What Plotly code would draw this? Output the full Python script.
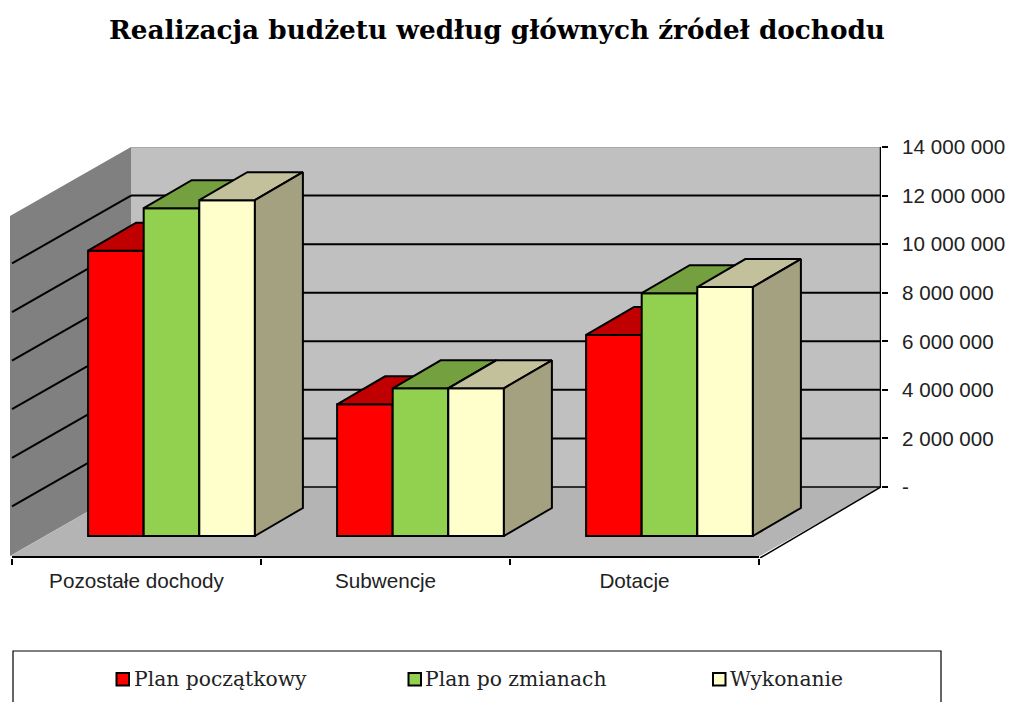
import plotly.graph_objects as go

title = "Realizacja budżetu według głównych źródeł dochodu"
categories = ["Pozostałe dochody", "Subwencje", "Dotacje"]
plan_poczatkowy = [11750000, 5420000, 8280000]
plan_po_zmianach = [13500000, 6080000, 10000000]
wykonanie = [13830000, 6080000, 10250000]
series_names = ["Plan początkowy", "Plan po zmianach", "Wykonanie"]
tick_values = [0, 2000000, 4000000, 6000000, 8000000, 10000000, 12000000, 14000000]
tick_labels = ["-", "2 000 000", "4 000 000", "6 000 000", "8 000 000", "10 000 000", "12 000 000", "14 000 000"]

# Oblique projection parameters (axis units)
UX = 249.0              # pixels per category
UY = 14000000 / 340.0   # value per pixel
WALL_DX, WALL_DY = 121 / UX, 69 * UY     # depth of the whole floor
BAR_DX, BAR_DY = 48 / UX, 28 * UY        # depth of a bar
FRONT_X, FRONT_Y = 35 / UX, -49 * UY     # front plane of the bars relative to the back wall
BAR_W = 55.6 / UX

front = ["#FF0000", "#92D050", "#FFFFCC"]
top = ["#C00000", "#74A040", "#C2C19B"]
side = ["#990000", "#6E9C3C", "#A3A180"]
all_values = [plan_poczatkowy, plan_po_zmianach, wykonanie]

X0 = -2 / UX
X_MAX = (881 - 12) / UX
Y_MIN = -71 * UY
Y_MAX = 14000000

# paper-coordinate helpers for the legend box
PLOT_L, PLOT_W, PLOT_B, PLOT_H = 10, 871, 558, 411


def px(v):
    return (v - PLOT_L) / PLOT_W


def py(v):
    return (PLOT_B - v) / PLOT_H


fig = go.Figure()

for s, (name, vals) in enumerate(zip(series_names, all_values)):
    suffix = "" if s == 0 else str(s + 1)
    xa, ya = "x" + suffix, "y" + suffix
    xs = [i + 0.5 + FRONT_X + (s - 1) * BAR_W for i in range(len(vals))]
    fig.add_trace(go.Bar(
        x=xs, y=vals, base=FRONT_Y, width=BAR_W, name=name, xaxis=xa, yaxis=ya,
        marker=dict(color=front[s], line=dict(color="black", width=2)),
        hoverinfo="name+y", showlegend=False,
    ))
    for xc, v in zip(xs, vals):
        xl, xr = xc - BAR_W / 2, xc + BAR_W / 2
        yt = FRONT_Y + v
        fig.add_trace(go.Scatter(
            x=[xl, xr, xr + BAR_DX, xl + BAR_DX, xl],
            y=[yt, yt, yt + BAR_DY, yt + BAR_DY, yt],
            mode="lines", fill="toself", fillcolor=top[s],
            line=dict(color="black", width=2), showlegend=False, hoverinfo="skip",
            xaxis=xa, yaxis=ya,
        ))
        fig.add_trace(go.Scatter(
            x=[xr, xr + BAR_DX, xr + BAR_DX, xr, xr],
            y=[FRONT_Y, FRONT_Y + BAR_DY, yt + BAR_DY, yt, FRONT_Y],
            mode="lines", fill="toself", fillcolor=side[s] if s < 2 else "#A3A180",
            line=dict(color="black", width=2), showlegend=False, hoverinfo="skip",
            xaxis=xa, yaxis=ya,
        ))

shapes = []
# back wall
shapes.append(dict(type="rect", xref="x", yref="y", layer="below",
                   x0=WALL_DX + X0, x1=X_MAX, y0=0, y1=Y_MAX,
                   fillcolor="#C0C0C0", line_width=0))
# left wall
shapes.append(dict(type="path", xref="x", yref="y", layer="below",
                   path=f"M {X0},{-WALL_DY} L {X0 + WALL_DX},0 L {X0 + WALL_DX},{Y_MAX} L {X0},{Y_MAX - WALL_DY} Z",
                   fillcolor="#808080", line_width=0))
# floor
shapes.append(dict(type="path", xref="x", yref="y", layer="below",
                   path=f"M {X0},{-WALL_DY} L {X0 + WALL_DX},0 L {X_MAX},0 L {X_MAX - WALL_DX},{-WALL_DY} Z",
                   fillcolor="#B4B4B4", line_width=0))
# grid lines on both walls
for v in tick_values:
    colour = "#A0A0A0" if v == Y_MAX else "black"
    shapes.append(dict(type="line", xref="x", yref="y", layer="below",
                       x0=X0 + WALL_DX, x1=X_MAX, y0=v, y1=v,
                       line=dict(color=colour, width=2 if 0 < v < Y_MAX else 1.5)))
    if 0 < v < Y_MAX:
        shapes.append(dict(type="line", xref="x", yref="y", layer="below",
                           x0=X0 + 2 / UX, x1=X0 + WALL_DX, y0=v - WALL_DY + 1.1 * UY, y1=v,
                           line=dict(color="black", width=2)))
# outline lines of the floor and the value axis
shapes.append(dict(type="line", xref="x", yref="y", layer="below",
                   x0=X_MAX, x1=X_MAX, y0=0, y1=Y_MAX, line=dict(color="black", width=2.5)))
shapes.append(dict(type="line", xref="x", yref="y", layer="below",
                   x0=X_MAX, x1=X_MAX - WALL_DX, y0=0, y1=-WALL_DY - 2 * UY, line=dict(color="black", width=1.5)))
shapes.append(dict(type="line", xref="x", yref="y", layer="below",
                   x0=0, x1=3, y0=Y_MIN + UY, y1=Y_MIN + UY, line=dict(color="black", width=2)))
# legend frame
shapes.append(dict(type="rect", xref="paper", yref="paper", layer="below",
                   x0=px(13), x1=px(941), y0=py(712), y1=py(651),
                   fillcolor="white", line=dict(color="black", width=1.2)))

# legend entries
legend_swatch_left = [116.5, 408.5, 713]
legend_text_left = [134, 425, 730]
annotations = []
for name, colour, sw, tx in zip(series_names, front, legend_swatch_left, legend_text_left):
    shapes.append(dict(type="rect", xref="paper", yref="paper", layer="above",
                       x0=px(sw), x1=px(sw + 12.5), y0=py(685.5), y1=py(673),
                       fillcolor=colour, line=dict(color="black", width=2)))
    annotations.append(dict(text=name, xref="paper", yref="paper", x=px(tx), y=py(679),
                            xanchor="left", yanchor="middle", showarrow=False, xshift=-2,
                            font=dict(family="DejaVu Serif", size=20.3, color="#222222")))

axis_x = dict(range=[X0, X_MAX], fixedrange=True)
axis_y = dict(range=[Y_MIN, Y_MAX], fixedrange=True)
hidden = dict(visible=False, showgrid=False, zeroline=False)

fig.update_layout(
    width=1009, height=702, autosize=False,
    margin=dict(l=10, r=128, t=147, b=144, autoexpand=False),
    paper_bgcolor="white", plot_bgcolor="white",
    showlegend=False, barmode="overlay",
    title=dict(text=f"<b>{title}</b>", x=497 / 1009, xanchor="center", y=1 - 30 / 702, yanchor="middle",
               font=dict(family="DejaVu Serif", size=26.3, color="black")),
    font=dict(family="Liberation Sans", color="#222222"),
    shapes=shapes,
    annotations=annotations,
    xaxis=dict(**axis_x, tickmode="array", tickvals=[0.5, 1.5, 2.5], ticktext=categories,
               ticks="", showgrid=False, zeroline=False, showline=False, automargin=False,
               tickfont=dict(family="Liberation Sans", size=20.7, color="#222222"),
               minor=dict(tickmode="array", tickvals=[0, 1, 2, 3], ticks="outside", ticklen=6,
                          tickcolor="black", tickwidth=1.5, showgrid=False),
               ticklabelstandoff=8),
    yaxis=dict(**axis_y, side="right", tickmode="array", tickvals=tick_values, ticktext=tick_labels,
               ticks="outside", ticklen=6, tickcolor="black", tickwidth=1.5,
               showgrid=False, zeroline=False, showline=False, automargin=False,
               tickfont=dict(family="Liberation Sans", size=20.6, color="#222222"),
               ticklabelstandoff=10),
    xaxis2=dict(**axis_x, **hidden, overlaying="x", anchor="y2"),
    yaxis2=dict(**axis_y, **hidden, overlaying="y", anchor="x2"),
    xaxis3=dict(**axis_x, **hidden, overlaying="x", anchor="y3"),
    yaxis3=dict(**axis_y, **hidden, overlaying="y", anchor="x3"),
)

fig.write_html("out.html", config=dict(displayModeBar=False),
               post_script="document.body.style.margin='0';document.documentElement.style.overflow='hidden';")
